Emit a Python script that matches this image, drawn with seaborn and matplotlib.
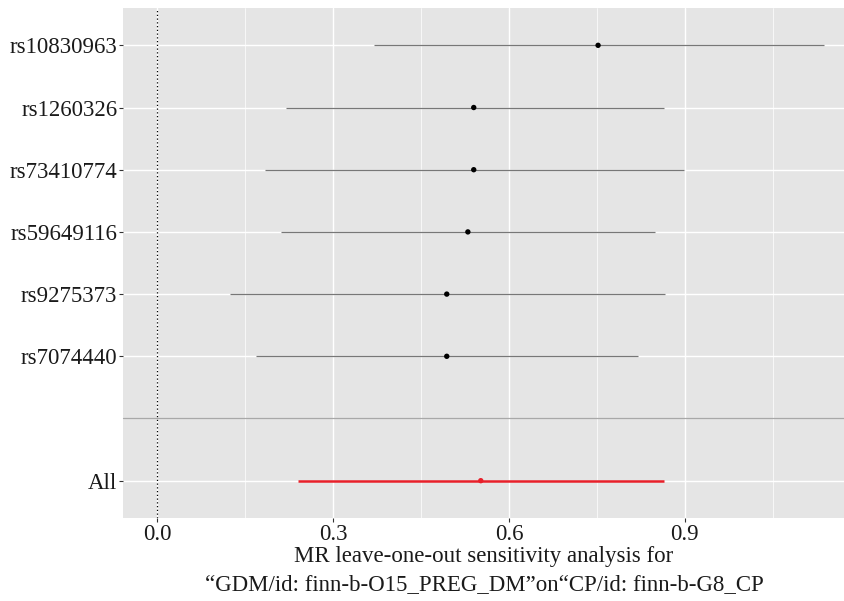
import numpy as np
import matplotlib
matplotlib.use("Agg")
import matplotlib.pyplot as plt
import seaborn as sns
import pandas as pd

# ================= DATA =================
snps = ["rs10830963", "rs1260326", "rs73410774", "rs59649116",
        "rs9275373", "rs7074440", "", "All"]
b = [0.752, 0.540, 0.540, 0.530, 0.494, 0.494, np.nan, 0.552]
lo = [0.370, 0.220, 0.184, 0.211, 0.124, 0.169, np.nan, 0.240]
hi = [1.137, 0.864, 0.899, 0.849, 0.866, 0.820, np.nan, 0.864]
xticks = [0.0, 0.3, 0.6, 0.9]

df = pd.DataFrame({"SNP": snps, "b": b, "lo": lo, "hi": hi})
df["pos"] = np.arange(len(df))
df["is_all"] = df["SNP"] == "All"
df = df[df["SNP"] != ""]

# ================= STYLE =================
sns.set_theme(style="darkgrid", rc={
    "axes.facecolor": "#E5E5E5",
    "grid.color": "white",
})
plt.rcParams["font.family"] = ["Liberation Serif", "DejaVu Serif"]

fig = plt.figure(figsize=(8.45, 6.01), dpi=100)
ax = fig.add_axes([123 / 845, 1 - 518 / 601, 1 - 123 / 845, (518 - 8) / 601])

# minor grid
for xm in [0.15, 0.45, 0.75, 1.05]:
    ax.axvline(xm, color="white", lw=0.5, zorder=0.5)

# blank separator and zero line
ax.axhline(6, color="#A8A8A8", lw=0.9, zorder=1, clip_on=False)
ax.axvline(0, color="black", lw=0.9, ls=(0, (1, 2)), zorder=1)

# intervals
snp_rows = df[~df["is_all"]]
all_rows = df[df["is_all"]]
ax.hlines(snp_rows["pos"], snp_rows["lo"], snp_rows["hi"], color="#777777", lw=0.9, zorder=2)
ax.hlines(all_rows["pos"], all_rows["lo"], all_rows["hi"], color="#E8202A", lw=1.8, zorder=2)

sns.scatterplot(data=df, x="b", y="pos", hue="is_all",
                palette={False: "black", True: "#E8202A"},
                s=15, edgecolor="none", legend=False, zorder=3, ax=ax)

ylabs = df["SNP"].tolist()
ax.set_yticks(df["pos"])
ax.set_yticklabels(ylabs)
ax.set_xticks(xticks)
ax.set_xticklabels([f"{v:.1f}" for v in xticks])
ax.set_ylim(7.6, -0.6)
ax.set_xlim(-0.058, 1.173)

ax.grid(True, which="major", color="white", lw=1.0)
ax.tick_params(axis="both", length=3, width=0.8, color="#333333",
               labelsize=16.5, labelcolor="#1A1A1A", pad=1)
ax.tick_params(axis="x", bottom=True)
ax.tick_params(axis="y", left=True)
for s in ax.spines.values():
    s.set_visible(False)

ax.set_ylabel("")
ax.set_xlabel("MR leave-one-out sensitivity analysis for\n"
              "\u201cGDM/id: finn-b-O15_PREG_DM\u201don\u201cCP/id: finn-b-G8_CP",
              fontsize=16.5, color="#1A1A1A", labelpad=1, linespacing=1.45)

plt.savefig("out.png", dpi=100)
